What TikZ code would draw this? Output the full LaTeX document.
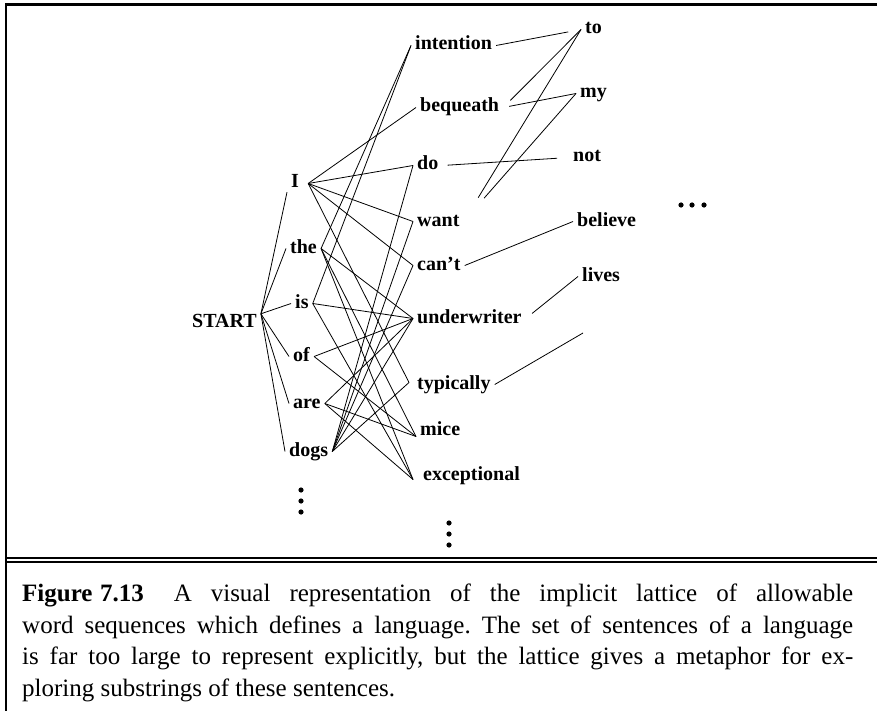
\documentclass[tikz,border=0pt]{standalone}
\usepackage{fontspec}
\setmainfont{Liberation Serif}
\begin{document}
\begin{tikzpicture}[x=1pt,y=-1pt,
  word/.style={font=\bfseries\fontsize{20}{24}\selectfont, inner xsep=4pt, inner ysep=0pt,
               text height=13pt, text depth=4pt, anchor=base west},
  link/.style={line width=0.8pt},
  frame/.style={line width=2.2pt},
  dotmark/.style={fill=black}]
\useasboundingbox (0,0) rectangle (877,711);
% frame
\draw[frame, line cap=rect] (6,711) -- (6,4.5) -- (877,4.5);
\draw[line width=2pt] (6,558) -- (877,558);
\draw[line width=2pt] (6,562) -- (877,562);
% words
\node[word] (START) at (188,327) {START};
\node[word] (I) at (287,188) {I};
\node[word] (the) at (286,253) {the};
\node[word] (is) at (291,308) {is};
\node[word] (of) at (289,361) {of};
\node[word] (are) at (289,408) {are};
\node[word] (dogs) at (285,456) {dogs};
\node[word] (intention) at (411,50) {intention};
\node[word] (bequeath) at (416,112) {bequeath};
\node[word] (do) at (413,170) {do};
\node[word] (want) at (413,226) {want};
\node[word] (cant) at (413,270) {can't};
\node[word] (underwriter) at (413,323) {underwriter};
\node[word] (typically) at (413,389) {typically};
\node[word] (mice) at (416,435) {mice};
\node[word] (exceptional) at (419,480) {exceptional};
\node[word] (to) at (581,34) {to};
\node[word] (my) at (576,98) {my};
\node[word] (not) at (569,162) {not};
\node[word] (believe) at (573,226) {believe};
\node[word] (lives) at (578,281) {lives};
\coordinate (blank) at (583,333);
% START
\draw[link] (START.north east) -- (I.south west);
\foreach \w in {the,is,of,are,dogs} \draw[link] (START.north east) -- (\w.west);
% column 1 -> column 2
\foreach \w in {bequeath,do,want,cant} \draw[link] ([xshift=5pt]I.east) -- (\w.west);
\draw[link] ([xshift=5pt]I.east) -- ([xshift=-4pt,yshift=2pt]typically.west);
\draw[link] (the.east) -- (intention.west);
\draw[link] (the.east) -- (underwriter.west);
\draw[link] (the.east) -- ([yshift=-6pt]mice.west);
\draw[link] (the.east) -- ([xshift=-6pt,yshift=-4pt]exceptional.west);
\draw[link] (is.east) -- (intention.west);
\draw[link] (is.east) -- (underwriter.west);
\draw[link] (is.east) -- ([xshift=-6pt,yshift=-4pt]exceptional.west);
\draw[link] (of.east) -- (underwriter.west);
\draw[link] (of.east) -- ([yshift=-6pt]mice.west);
\draw[link] (are.east) -- (underwriter.west);
\draw[link] (are.east) -- ([yshift=-6pt]mice.west);
\draw[link] (are.east) -- ([xshift=-6pt,yshift=-4pt]exceptional.west);
\foreach \w in {do,want,cant,underwriter} \draw[link] (dogs.east) -- (\w.west);
\draw[link] (dogs.east) -- ([xshift=-4pt,yshift=2pt]typically.west);
% column 2 -> column 3
\draw[link, shorten >=13pt] (intention.east) -- (to.west);
\draw[link, shorten <=10pt] (bequeath.east) -- (to.west);
\draw[link, shorten <=6pt] (bequeath.east) -- (my.west);
\draw[link, shorten <=5pt, shorten >=12pt] (do.east) -- (not.west);
\draw[link, shorten <=28pt] (want.east) -- (to.west);
\draw[link, shorten <=31pt] (want.east) -- (my.west);
\draw[link] (cant.east) -- (believe.west);
\draw[link, shorten <=8pt] (underwriter.east) -- (lives.west);
\draw[link] (typically.east) -- (blank);
% ellipses
\foreach \x in {681,692,704} \fill[dotmark] (\x,205) circle (2.6);
\foreach \y in {490,501,512} \fill[dotmark] (301,\y) circle (2.6);
\foreach \y in {523,534,545} \fill[dotmark] (449,\y) circle (2.6);
% caption
\node[anchor=base west, inner sep=0pt] (caption) at (22,601.5) {\parbox[t]{831pt}{\fontsize{25}{31.7}\selectfont\frenchspacing\textbf{Figure\hspace{0.3em}7.13}\hspace{1.2em}A visual representation of the implicit lattice of allowable\linebreak word sequences which defines a language. The set of sentences of a language\linebreak is far too large to represent explicitly, but the lattice gives a metaphor for ex-\linebreak ploring substrings of these sentences.}};
\end{tikzpicture}
\end{document}
